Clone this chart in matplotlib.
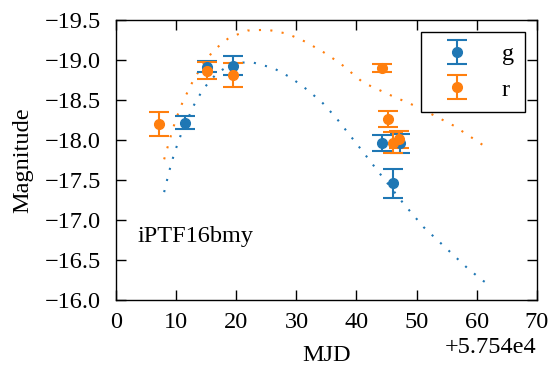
import numpy as np
import matplotlib
matplotlib.use("Agg")
import matplotlib.pyplot as plt
from matplotlib.ticker import ScalarFormatter

plt.rcParams['font.family'] = ['Liberation Serif', 'DejaVu Serif']
plt.rcParams['font.size'] = 17.5

offset = 57540

# photometry (days since offset, absolute magnitude, error)
g_t = [11.5, 15.2, 19.4, 44.3, 46.1, 47.2]
g_mag = [-18.22, -18.92, -18.93, -17.96, -17.46, -17.96]
g_err = [0.08, 0.07, 0.12, 0.10, 0.18, 0.12]

r_t = [7.2, 15.2, 19.4, 44.3, 45.3, 46.1, 47.1]
r_mag = [-18.20, -18.87, -18.81, -18.90, -18.26, -17.97, -18.01]
r_err = [0.15, 0.11, 0.15, 0.05, 0.10, 0.13, 0.11]

# model curves
g_model_t = [8.0, 8.8, 9.7, 10.8, 12.9, 14.5, 16.7, 19.5, 22.8, 26.2, 29.1, 31.8,
             34.3, 36.6, 38.6, 40.7, 43.8, 47.9, 51.2, 54.9, 58.6, 61.1, 61.7]
g_model = [-17.35, -17.60, -17.84, -18.07, -18.43, -18.64, -18.83, -18.97, -18.97,
           -18.90, -18.78, -18.63, -18.47, -18.28, -18.09, -17.89, -17.59, -17.20,
           -16.91, -16.65, -16.39, -16.24, -16.21]

r_model_t = [8.0, 8.9, 9.9, 11.1, 12.6, 14.2, 16.2, 18.8, 21.9, 25.2, 28.5, 31.5,
             34.5, 37.3, 41.1, 45.7, 50.3, 56.2, 61.8, 62.1]
r_model = [-17.76, -18.00, -18.25, -18.48, -18.71, -18.92, -19.12, -19.28, -19.37,
           -19.38, -19.33, -19.23, -19.10, -18.96, -18.72, -18.56, -18.41, -18.18,
           -17.90, -17.88]

blue = '#1f77b4'
orange = '#ff7f0e'

fig = plt.figure(figsize=(5.58, 3.66), dpi=100)
ax = fig.add_axes([0.208, 0.180, 0.754, 0.765])

ax.plot(np.array(g_model_t) + offset, g_model, color=blue, lw=1.5, ls=(0, (1, 4.5)))
ax.plot(np.array(r_model_t) + offset, r_model, color=orange, lw=1.5, ls=(0, (1, 4.5)))

ax.errorbar(np.array(g_t) + offset, g_mag, yerr=g_err, fmt='o', color=blue,
            ms=7, capsize=7, elinewidth=1.5, capthick=1.5, label='g')
ax.errorbar(np.array(r_t) + offset, r_mag, yerr=r_err, fmt='o', color=orange,
            ms=7, capsize=7, elinewidth=1.5, capthick=1.5, label='r')

ax.text(3.5 + offset, -16.79, 'iPTF16bmy', va='center')

ax.set_xlim(offset, offset + 70)
ax.set_ylim(-16.0, -19.5)
ax.set_xticks(np.arange(0, 71, 10) + offset)
ax.set_yticks(np.arange(-19.5, -15.9, 0.5))
fmt = ScalarFormatter(useOffset=offset)
ax.xaxis.set_major_formatter(fmt)

ax.tick_params(direction='in', top=True, right=True, length=7, width=1)
ax.tick_params(axis='x', pad=8.5)
ax.tick_params(axis='y', pad=11)
for s in ax.spines.values():
    s.set_linewidth(1)

ax.set_xlabel('MJD', labelpad=8.5)
ax.set_ylabel('Magnitude', labelpad=8)

leg = ax.legend(loc='upper right', numpoints=1, fancybox=False, edgecolor='black',
                framealpha=1, handlelength=2.0, handletextpad=0.85, labelspacing=0.55,
                borderpad=0.45, borderaxespad=0.5)
leg.get_frame().set_linewidth(1)

fig.savefig('out.png', dpi=100)
